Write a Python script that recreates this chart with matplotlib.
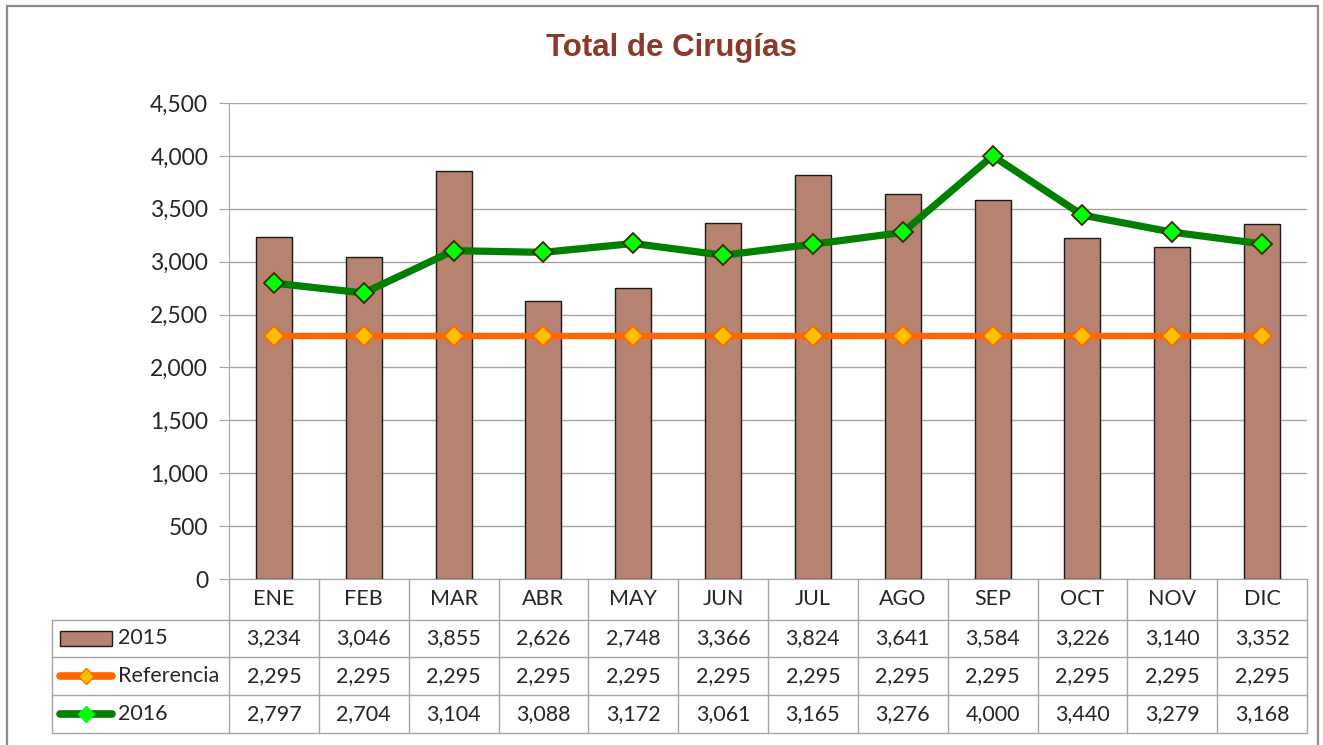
import matplotlib

matplotlib.use("Agg")

import matplotlib.pyplot as plt
import matplotlib.transforms as mtransforms
from matplotlib.lines import Line2D
from matplotlib.patches import Rectangle

plt.rcParams["font.family"] = ["Lato", "DejaVu Sans"]

meses = ["ENE", "FEB", "MAR", "ABR", "MAY", "JUN", "JUL", "AGO", "SEP", "OCT", "NOV", "DIC"]
cirugias_2015 = [3234, 3046, 3855, 2626, 2748, 3366, 3824, 3641, 3584, 3226, 3140, 3352]
referencia = [2295] * 12
cirugias_2016 = [2797, 2704, 3104, 3088, 3172, 3061, 3165, 3276, 4000, 3440, 3279, 3168]
y_ticks = [0, 500, 1000, 1500, 2000, 2500, 3000, 3500, 4000, 4500]

BAR_COLOR = "#B5836F"
REF_COLOR = "#FF6600"
REF_MARK = "#FFC000"
GREEN = "#008000"
LIME = "#00FF00"
GRID = "#A6A6A6"
TXT = "#262626"

fig = plt.figure(figsize=(13.23, 7.45), dpi=100)
W, H = 1323, 745


def fx(px):
    return px / W


def fy(py):
    return 1 - py / H


# marco exterior (el borde inferior queda fuera de la imagen)
fig.add_artist(Rectangle((fx(7), fy(760)), fx(1318) - fx(7), fy(6) - fy(760),
                         transform=fig.transFigure, fill=False, edgecolor="#8C8C8C", linewidth=1.6))

ax = fig.add_axes([fx(229), fy(579), fx(1307) - fx(229), fy(103) - fy(579)])
x = list(range(len(meses)))

ax.bar(x, cirugias_2015, width=0.4, color=BAR_COLOR, edgecolor="#1A1A1A", linewidth=1.0, zorder=2)
ax.plot(x, referencia, color=REF_COLOR, linewidth=4.6, marker="D", markersize=10,
        markerfacecolor=REF_MARK, markeredgecolor=REF_COLOR, markeredgewidth=1.2, zorder=3)
ax.plot(x, cirugias_2016, color=GREEN, linewidth=5.2, marker="D", markersize=10.5,
        markerfacecolor=LIME, markeredgecolor="#3A2A05", markeredgewidth=1.3, zorder=4)

ax.set_xlim(-0.5, len(meses) - 0.5)
ax.set_ylim(0, 4500)
ax.set_yticks(y_ticks)
ax.set_yticklabels([f"{v:,}" for v in y_ticks], fontsize=16.5, color=TXT)
ax.set_xticks([])
ax.yaxis.grid(True, color=GRID, linewidth=1.0, zorder=0)
ax.set_axisbelow(True)
for side in ["top", "right"]:
    ax.spines[side].set_visible(False)
ax.spines["left"].set_color(GRID)
ax.spines["bottom"].set_color(GRID)
ax.tick_params(axis="y", length=7, color=GRID, pad=8)

fig.text(fx(671), fy(48), "Total de Cirugías", fontsize=22.5, fontweight="bold", color="#8B3A2A",
         ha="center", va="center",
         family=["Liberation Sans Narrow", "Liberation Sans", "DejaVu Sans"])

# tabla de datos bajo el eje
trans = mtransforms.blended_transform_factory(ax.transData, ax.transAxes)
row_edges = [0, -0.0861, -0.1639, -0.2437, -0.3235]
left_edge = (52 - 229) / 1078
line_kw = dict(color=GRID, linewidth=1.0, clip_on=False)

for y in row_edges[1:]:
    ax.add_line(Line2D([left_edge, 1], [y, y], transform=ax.transAxes, **line_kw))
for i in range(len(meses) + 1):
    ax.add_line(Line2D([i - 0.5, i - 0.5], [0, row_edges[-1]], transform=trans, **line_kw))
ax.add_line(Line2D([left_edge, left_edge], [row_edges[1], row_edges[-1]], transform=ax.transAxes, **line_kw))

rows = [cirugias_2015, referencia, cirugias_2016]
for i, mes in enumerate(meses):
    ax.text(i, (row_edges[0] + row_edges[1]) / 2, mes, transform=trans, ha="center", va="center",
            fontsize=15.5, color=TXT)
    for r, serie in enumerate(rows):
        ax.text(i, (row_edges[r + 1] + row_edges[r + 2]) / 2, f"{serie[i]:,}", transform=trans,
                ha="center", va="center", fontsize=15.5, color=TXT)

# claves de la leyenda dentro de la tabla
key_x0, key_x1 = (60 - 229) / 1078, (112 - 229) / 1078
label_x = (118 - 229) / 1078
labels = ["2015", "Referencia", "2016"]
for r, lab in enumerate(labels):
    yc = (row_edges[r + 1] + row_edges[r + 2]) / 2
    if r == 0:
        ax.add_patch(Rectangle((key_x0, yc - 0.015), key_x1 - key_x0, 0.03, transform=ax.transAxes,
                               facecolor=BAR_COLOR, edgecolor="#1A1A1A", linewidth=1.0, clip_on=False))
    else:
        col, face, edge = (REF_COLOR, REF_MARK, REF_COLOR) if r == 1 else (GREEN, LIME, LIME)
        ax.add_line(Line2D([key_x0, key_x1], [yc, yc], transform=ax.transAxes, color=col,
                           linewidth=5.5, solid_capstyle="round", clip_on=False))
        ax.add_line(Line2D([(key_x0 + key_x1) / 2], [yc], transform=ax.transAxes, marker="D",
                           markersize=8, markerfacecolor=face, markeredgecolor=edge,
                           linestyle="none", clip_on=False))
    ax.text(label_x, yc, lab, transform=ax.transAxes, ha="left", va="center", fontsize=15.5, color=TXT)

fig.savefig("out.png", dpi=100)
